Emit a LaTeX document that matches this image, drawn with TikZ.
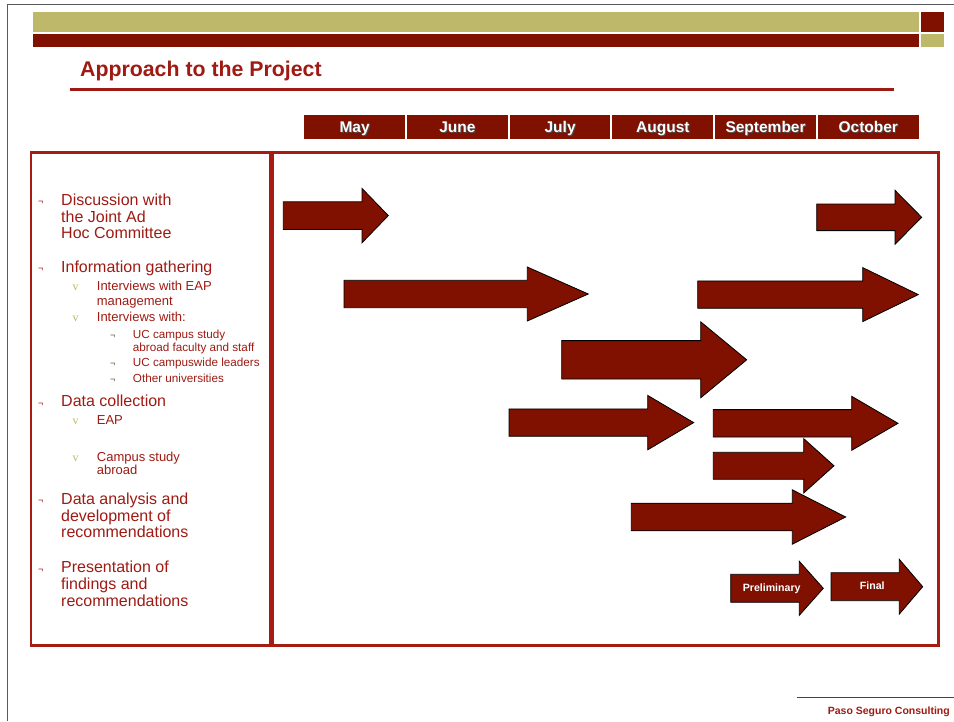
\documentclass[tikz,border=0pt]{standalone}
\usepackage{fontspec}
\setmainfont{Liberation Sans}
\newfontfamily\serifv{Liberation Serif}
\definecolor{barred}{RGB}{128,16,0}
\definecolor{textred}{RGB}{158,26,18}
\definecolor{framered}{RGB}{165,28,18}
\definecolor{olive}{RGB}{189,184,106}
\definecolor{bulletgreen}{RGB}{80,85,45}
\definecolor{pagegray}{RGB}{90,90,90}
\tikzset{
  arrowstyle/.style={fill=barred, draw=black, line width=0.8pt, line join=miter},
  lvlone/.style={anchor=base west, inner sep=0pt, text=textred, font=\fontsize{16}{17}\selectfont},
  lvltwo/.style={anchor=base west, inner sep=0pt, text=textred, font=\fontsize{13}{14}\selectfont},
  lvlthree/.style={anchor=base west, inner sep=0pt, text=textred, font=\fontsize{11.7}{12.5}\selectfont},
  bulone/.style={anchor=base west, inner sep=0pt, text=textred, font=\fontsize{9}{9}\selectfont},
  bultwo/.style={anchor=base west, inner sep=0pt, text=olive, font=\serifv\fontsize{12}{12}\selectfont},
  bulthree/.style={anchor=base west, inner sep=0pt, text=bulletgreen, font=\fontsize{9}{9}\selectfont},
  monthbox/.style={fill=barred, draw=none, minimum width=100.7pt, minimum height=24pt, inner sep=0pt},
  monthtext/.style={anchor=base, inner sep=0pt, text=white, font=\bfseries\fontsize{15.5}{16}\selectfont},
  monthshadow/.style={anchor=base, inner sep=0pt, text=black!70, font=\bfseries\fontsize{15.5}{16}\selectfont},
  arrowlabel/.style={inner sep=0pt, text=white, font=\bfseries\fontsize{10.6}{11}\selectfont},
}
\newcommand\garrow[6]{% x0, xb, xt, yc, halfshaft, halfhead
  \draw[arrowstyle] ({#1},{#4-#5}) -- ({#2},{#4-#5}) -- ({#2},{#4-#6}) -- ({#3},{#4}) -- ({#2},{#4+#6}) -- ({#2},{#4+#5}) -- ({#1},{#4+#5}) -- cycle;}
\begin{document}
\begin{tikzpicture}[x=1pt,y=-1pt]
\useasboundingbox (0,0) rectangle (954,721);
% page border
\draw[pagegray, line width=1.5pt] (7.3,721) -- (7.3,4.7) -- (954,4.7);
% top bars
\fill[olive] (33.3,11.5) rectangle (918.8,32);
\fill[barred] (921,11.5) rectangle (944,32);
\fill[barred] (33.3,33.8) rectangle (918.8,47);
\fill[olive] (921,33.8) rectangle (944,47);
% title
\node[anchor=base west, inner sep=0pt, text=textred, font=\bfseries\fontsize{21.3}{22}\selectfont] (title) at (80,76.7) {Approach to the Project};
\draw[textred, line width=3pt] (70,89) -- (894,89);
% month header
\foreach \m [count=\i from 0] in {May,June,July,August,September,October}{
  \node[monthbox] (m\i) at ({304.3+50.35+\i*102.73},127) {};
  \node[monthshadow] at ({304.3+50.35+\i*102.73+1},133.5) {\m};
  \node[monthtext] at ({304.3+50.35+\i*102.73},132.5) {\m};
}
% frames
\draw[framered, line width=2.5pt] (31,152.5) rectangle (270.7,645.7);
\draw[framered, line width=2.5pt] (272.3,152.5) rectangle (938.5,645.7);
% left text
\node[bulone] at (38,204) {¬};
\node[lvlone] (t1a) at (61,205) {Discussion with};
\node[lvlone] (t1b) at (61,222) {the Joint Ad};
\node[lvlone] (t1c) at (61,238.7) {Hoc Committee};
\node[bulone] at (38,271) {¬};
\node[lvlone] (t2) at (61,272) {Information gathering};
\node[bultwo] at (72.3,290) {v};
\node[lvltwo] (t2a) at (96.7,290) {Interviews with EAP};
\node[lvltwo] (t2b) at (96.7,305) {management};
\node[bultwo] at (72.3,321.7) {v};
\node[lvltwo] (t2c) at (96.7,321.7) {Interviews with:};
\node[bulthree] at (110,338) {¬};
\node[lvlthree] (t3a) at (132.7,338.3) {UC campus study};
\node[lvlthree] (t3b) at (132.7,351) {abroad faculty and staff};
\node[bulthree] at (110,366) {¬};
\node[lvlthree] (t3c) at (132.7,366) {UC campuswide leaders};
\node[bulthree] at (110,382) {¬};
\node[lvlthree] (t3d) at (132.7,382) {Other universities};
\node[bulone] at (38,406) {¬};
\node[lvlone] (t4) at (61,406.7) {Data collection};
\node[bultwo] at (72.3,424.3) {v};
\node[lvltwo] (t4a) at (96.7,424.3) {EAP};
\node[bultwo] at (72.3,461.7) {v};
\node[lvltwo] (t4b) at (96.7,461.7) {Campus study};
\node[lvltwo] (t4c) at (96.7,474.3) {abroad};
\node[bulone] at (38,503) {¬};
\node[lvlone] (t5a) at (61,504) {Data analysis and};
\node[lvlone] (t5b) at (61,521.3) {development of};
\node[lvlone] (t5c) at (61,537.7) {recommendations};
\node[bulone] at (38,572) {¬};
\node[lvlone] (t6a) at (61,572.7) {Presentation of};
\node[lvlone] (t6b) at (61,589) {findings and};
\node[lvlone] (t6c) at (61,606) {recommendations};
% arrows
\garrow{283.3}{362}{388.3}{215.6}{13.8}{27.2}
\garrow{344}{527.3}{588.3}{294}{13.7}{27}
\garrow{816.7}{895}{921.7}{217.3}{13.3}{27}
\garrow{697.7}{862.7}{918.3}{294.6}{13.7}{27}
\garrow{561.7}{700.7}{746.7}{359.8}{19.2}{38}
\garrow{509}{647.7}{693.7}{422.6}{13.7}{27.2}
\garrow{713.3}{851.7}{898}{423.3}{13.7}{27}
\garrow{713.3}{803.7}{834}{465.8}{13.5}{27.2}
\garrow{631.3}{792.3}{845.7}{517}{13.8}{27.2}
\garrow{730.7}{799.3}{823.3}{588.3}{14}{27}
\garrow{831}{899.3}{922.7}{586.7}{14}{27.4}
\node[arrowlabel] (prelim) at (771.7,588.3) {Preliminary};
\node[arrowlabel] (final) at (872.3,586) {Final};
% footer
\draw[framered, line width=1pt] (796.7,697.7) -- (954,697.7);
\node[anchor=base east, inner sep=0pt, text=textred, font=\bfseries\fontsize{10.5}{11}\selectfont] (footer) at (950,714) {Paso Seguro Consulting};
\end{tikzpicture}
\end{document}
